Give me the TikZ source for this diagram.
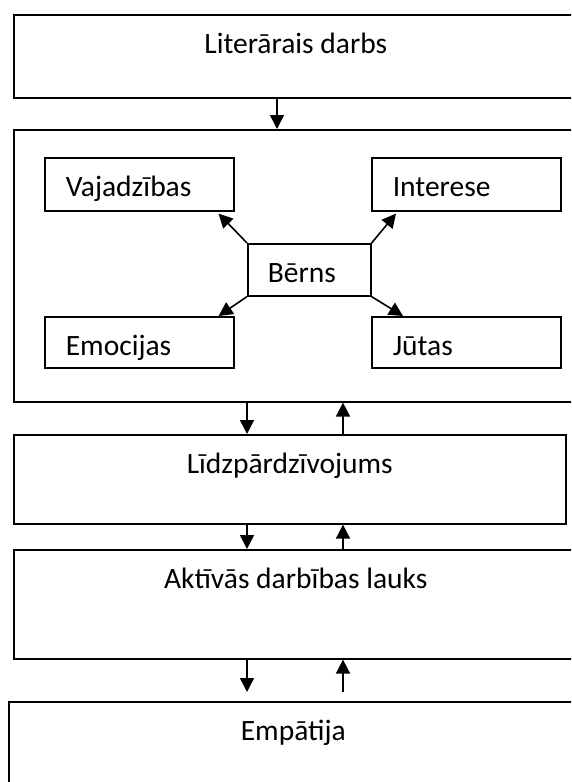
\documentclass[tikz,border=0pt]{standalone}
\usepackage{fontspec}
\setmainfont{Carlito}
\usetikzlibrary{arrows.meta,calc}

\begin{document}
\begin{tikzpicture}
  [x=1pt,y=-1pt,line width=1.6pt,every node/.style={draw,rectangle,inner sep=0pt,anchor=north west,text height=39pt,font=\fontsize{29.5}{35}\selectfont}]
  \tikzstyle{band} = [minimum width=564pt]
  \tikzstyle{small} = [inner xsep=21pt,text width=147pt,align=left,text depth=14pt]
  \tikzstyle{arr} = [-{Triangle[width=14pt,length=14pt]}]
  \clip (0,0) rectangle (571,782);
  % main column
  \node[band,text depth=44pt] (darbs) at (13,14) {Literārais darbs};
  \node[band,minimum height=272pt,text height=0pt] (vide) at (13,129) {};
  \node[minimum width=552pt,text depth=50pt] (lidz) at (13,434) {Līdzpārdzīvojums};
  \node[band,text depth=70pt] (akt) at (13,549) {Aktīvās darbības lauks};
  \node[minimum width=569pt,text depth=100pt] (emp) at (8,701) {Empātija};
  % inside the second box
  \node[small] (vaj) at (44,157) {Vajadzības};
  \node[small] (int) at (371,157) {Interese};
  \node[small,text depth=12pt] (emo) at (44,316) {Emocijas};
  \node[small,text depth=12pt] (jut) at (371,316) {Jūtas};
  \node[small,inner xsep=20pt,text width=83pt,text depth=13pt] (berns) at (247,243) {Bērns};
  \draw[arr] (berns.north west) -- ([xshift=-16pt,yshift=-2pt]vaj.south east);
  \draw[arr] (berns.north east) -- ([xshift=25pt,yshift=-2pt]int.south west);
  \draw[arr] (berns.south west) -- ([xshift=-16pt]emo.north east);
  \draw[arr] (berns.south east) -- ([xshift=32pt]jut.north west);
  % links between the boxes
  \coordinate (c1) at (277,0);
  \coordinate (dn) at (247,0);
  \coordinate (up) at (343,0);
  \draw[arr] (darbs.south -| c1) -- (vide.north -| c1);
  \foreach \a/\b/\g in {vide/lidz/0,lidz/akt/0,akt/emp/9}
  {
    \draw[arr] (\a.south -| dn) -- ($(\b.north -| dn)+(0,-\g)$);
    \draw[arr] ($(\b.north -| up)+(0,-\g)$) -- (\a.south -| up);
  }
\end{tikzpicture}
\end{document}
